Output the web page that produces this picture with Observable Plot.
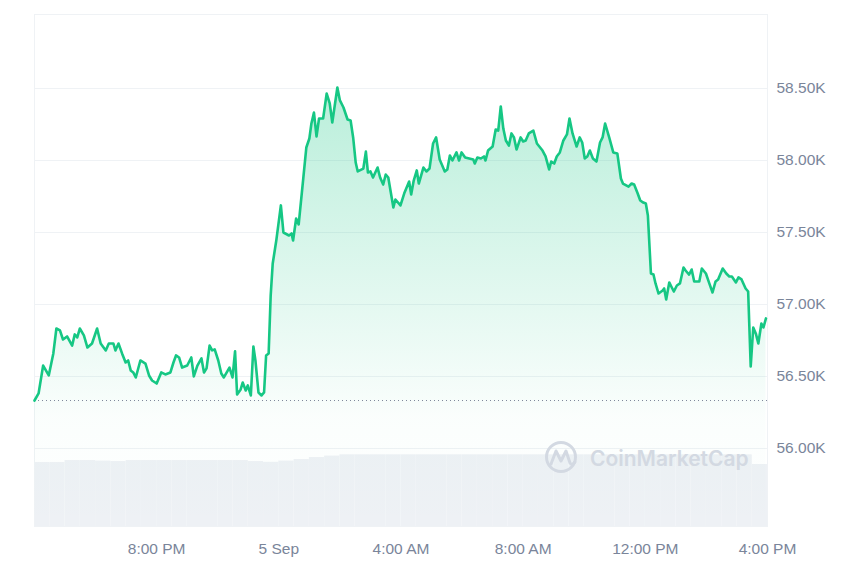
<!DOCTYPE html>
<html><head><meta charset="utf-8">
<script src="https://cdn.jsdelivr.net/npm/d3@7"></script>
<script src="https://cdn.jsdelivr.net/npm/@observablehq/plot@0.6"></script>
<style>
html,body{margin:0;padding:0;background:#fff;}
#chart{position:relative;width:860px;height:573px;}
</style></head><body><div id="chart"></div>
<script>
// ---- data ----
const startTime = Date.UTC(2024, 8, 4, 16, 0); // 4 Sep, 4:00 PM
const openPrice = 56333;
const minutesFromStart = [
  0,8,17,28,37,43,50,56,64,74,
  79,84,89,97,104,113,123,130,140,146,
  155,159,165,172,179,184,189,194,199,208,
  218,225,231,240,249,257,267,273,278,284,
  290,300,308,313,320,328,333,338,344,349,
  354,361,367,372,383,389,394,398,405,409,
  415,419,425,430,434,440,446,451,455,460,
  464,468,475,484,489,500,505,508,514,519,
  528,534,540,544,549,554,559,567,574,580,
  585,595,600,607,615,621,626,631,635,646,
  651,655,660,665,674,679,685,690,695,700,
  705,709,719,727,736,740,745,751,755,764,
  770,776,783,789,796,806,811,816,821,829,
  834,839,846,854,862,865,870,877,883,886,
  891,900,906,911,916,921,926,932,937,942,
  947,955,960,965,971,980,987,998,1004,1011,
  1015,1021,1026,1032,1039,1046,1051,1057,1065,1071,
  1076,1081,1086,1091,1097,1104,1111,1116,1121,1129,
  1137,1145,1152,1156,1167,1173,1178,1185,1190,1196,
  1201,1205,1211,1216,1220,1226,1234,1237,1241,1247,
  1251,1256,1262,1268,1275,1279,1286,1291,1296,1306,
  1311,1319,1325,1332,1338,1343,1352,1359,1365,1370,
  1378,1383,1389,1397,1402,1407,1412,1417,1422,1428,
  1432,1437
];
const priceUSD = [
  56333,56382,56576,56507,56660,56833,56820,56757,56778,56715,
  56792,56771,56833,56785,56701,56729,56833,56729,56681,56729,
  56729,56681,56729,56660,56597,56611,56542,56528,56493,56611,
  56590,56507,56472,56451,56528,56514,56528,56597,56646,56632,
  56562,56576,56632,56500,56576,56625,56528,56556,56715,56681,
  56688,56611,56521,56493,56562,56493,56674,56375,56410,56458,
  56403,56438,56368,56708,56611,56389,56368,56389,56646,56660,
  57062,57285,57444,57688,57500,57479,57493,57444,57597,57556,
  57875,58090,58153,58257,58333,58167,58292,58292,58465,58396,
  58264,58507,58417,58368,58285,58278,58160,57986,57924,57944,
  58062,57917,57924,57882,57951,57882,57833,57903,57882,57778,
  57674,57729,57688,57778,57854,57764,57861,57931,57840,57951,
  57924,57944,58118,58160,58007,57924,57938,58035,58000,58056,
  58000,58056,58021,58014,58007,57979,58021,58014,58028,58000,
  58069,58097,58215,58208,58375,58222,58139,58104,58188,58160,
  58076,58160,58132,58139,58188,58208,58118,58069,58028,57938,
  57993,57979,58028,58056,58139,58181,58292,58188,58097,58160,
  58125,58014,58028,58069,58014,57993,58125,58160,58257,58160,
  58056,58049,57875,57840,57819,57840,57833,57771,57722,57708,
  57701,57618,57215,57208,57146,57076,57097,57111,57035,57153,
  57125,57090,57132,57146,57257,57236,57208,57243,57160,57160,
  57250,57215,57153,57083,57160,57174,57250,57215,57194,57194,
  57153,57188,57174,57111,57090,56569,56840,56799,56729,56868,
  56840,56903
];
// volume, 30-minute bars (billions USD, relative)
const volumeMinutes = d3.range(0, 1440, 30);
const volumeUSDbn = [
  25.6,25.6,26.4,26.4,26.2,26.0,26.4,26.4,26.4,26.4,
  26.4,26.4,26.4,26.4,26.0,25.7,26.2,26.8,27.6,28.2,
  28.7,28.7,28.7,28.7,28.7,28.7,28.7,28.7,28.7,28.7,
  28.7,28.7,28.7,28.7,28.7,28.7,28.7,28.7,28.7,28.7,
  28.7,28.7,28.7,28.7,28.7,28.7,28.7,24.8
];
const xTickHours = [4, 8, 12, 16, 20, 24];
const xTickLabels = ["8:00 PM", "5 Sep", "4:00 AM", "8:00 AM", "12:00 PM", "4:00 PM"];
const yTickValues = [56000, 56500, 57000, 57500, 58000, 58500];
const yTickLabels = ["56.00K", "56.50K", "57.00K", "57.50K", "58.00K", "58.50K"];
const yDomain = [55458, 59014];
const volumeBandShare = 0.14;

// ---- build ----
const H = 3600000;
const data = minutesFromStart.map((m, i) => ({time: new Date(startTime + m * 60000), price: priceUSD[i]}));
const vol = volumeMinutes.map((m, i) => ({t1: new Date(startTime + m * 60000), t2: new Date(startTime + (m + 30) * 60000), v: volumeUSDbn[i]}));
const volToY = d3.scaleLinear().domain([0, d3.max(volumeUSDbn)])
  .range([yDomain[0], yDomain[0] + volumeBandShare * (yDomain[1] - yDomain[0])]);
const xTickDates = xTickHours.map(h => new Date(startTime + h * H));

const chart = Plot.plot({
  width: 860, height: 573,
  marginLeft: 34, marginRight: 93, marginTop: 14, marginBottom: 47,
  style: {fontFamily: "'Liberation Sans', Arial, Helvetica, sans-serif", fontSize: "15.5px", color: "#7a859a", background: "#fff"},
  x: {type: "utc", domain: [new Date(startTime), new Date(startTime + 24 * H)], ticks: xTickDates,
      tickFormat: d => xTickLabels[xTickDates.findIndex(t => +t === +d)], tickSize: 0, tickPadding: 16, label: null},
  y: {domain: yDomain, ticks: yTickValues, tickFormat: d => yTickLabels[yTickValues.indexOf(d)],
      axis: "right", tickSize: 0, tickPadding: 9, label: null},
  marks: [
    Plot.rect(vol, {x1: "t1", x2: "t2", y1: () => yDomain[0], y2: d => volToY(d.v), fill: "#eef1f5"}),
    Plot.frame({stroke: "#eff2f5"}),
    Plot.ruleY(yTickValues, {stroke: "#eff2f5"}),
    Plot.areaY(data, {x: "time", y1: () => yDomain[0], y2: "price", fill: "url(#cmcGreenFade)"}),
    Plot.ruleY([openPrice], {stroke: "#7d879a", strokeDasharray: "1,3", strokeWidth: 1}),
    Plot.lineY(data, {x: "time", y: "price", stroke: "#16c784", strokeWidth: 2.6, strokeLinejoin: "round"})
  ]
});

const svg = d3.select(chart);
svg.insert("defs", ":first-child").html(`
  <linearGradient id="cmcGreenFade" x1="0" y1="0" x2="0" y2="1">
    <stop offset="0" stop-color="#16c784" stop-opacity="0.30"/>
    <stop offset="0.75" stop-color="#16c784" stop-opacity="0.02"/>
    <stop offset="1" stop-color="#16c784" stop-opacity="0"/>
  </linearGradient>`);
// watermark
const wm = svg.append("g");
wm.append("circle").attr("cx", 561).attr("cy", 457).attr("r", 14.5)
  .attr("fill", "none").attr("stroke", "#d3d9e2").attr("stroke-width", 3);
wm.append("path").attr("d", "M551,464 L556,451 L561,461 L566,451 L570,463 Q572,466 575,462")
  .attr("fill", "none").attr("stroke", "#d3d9e2").attr("stroke-width", 3).attr("stroke-linejoin", "round").attr("stroke-linecap", "round");
wm.append("text").attr("x", 590).attr("y", 466).attr("text-anchor", "start").text("CoinMarketCap")
  .attr("fill", "#d3d9e2").attr("font-size", 21).attr("font-weight", 600)
  .attr("font-family", "Inter, sans-serif");

document.getElementById("chart").appendChild(chart);
</script>
</body></html>
